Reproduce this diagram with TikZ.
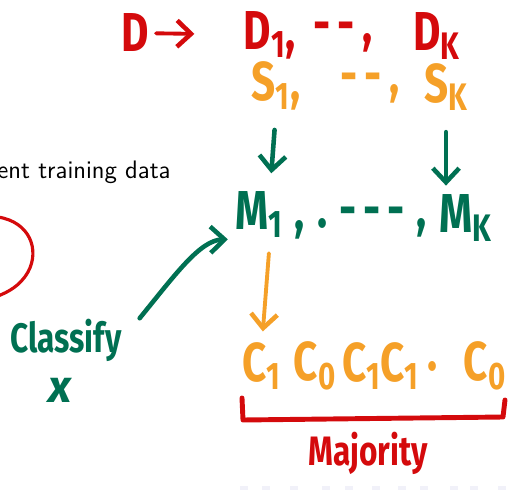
\documentclass[tikz,border=0pt]{standalone}
\usepackage{fontspec}
\usepackage{xcolor}
\usepackage{tikz}
\usetikzlibrary{arrows.meta, calc}
\newfontfamily\hand{Fira Sans}
% marker writing is taller than the font
\newcommand{\hw}[1]{\scalebox{1}[1.3]{#1}}

\definecolor{hred}{RGB}{212,10,12}
\definecolor{horange}{RGB}{245,160,40}
\definecolor{hgreen}{RGB}{0,112,82}

\tikzset{
  ink/.style={font=\hand\bfseries\fontsize{24}{26}\selectfont, inner sep=0pt},
  redink/.style={ink, text=hred},
  orangeink/.style={ink, text=horange},
  greenink/.style={ink, text=hgreen},
  harrow/.style={line width=2.6pt, line cap=round, line join=round,
    -{Straight Barb[length=8pt,width=15pt,line width=2.6pt]}},
}

\begin{document}
\begin{tikzpicture}[x=0.02cm, y=-0.02cm]
  \useasboundingbox (0,0) rectangle (511,490);

  % bit of the slide underneath
  \node[anchor=base west, inner sep=0pt, font=\sffamily\fontsize{14.4}{17}\selectfont] (slide) at (-3,178) {ent training data};
  \draw[hred, line width=1.8pt] (-2,217) .. controls (30,222) and (40,250) .. (28,272)
    .. controls (20,286) and (8,292) .. (-2,296);

  % splitting the data
  \node[redink] (d) at (135,33) {\hw{D}};
  \node[redink] (d1) at (270,35) {\hw{D\textsubscript{1},}};
  \node[redink] (ddots) at (343,37) {\hw{-\,-\,,}};
  \node[redink] (dk) at (437,36) {\hw{D\textsubscript{K}}};
  \draw[harrow, hred, line width=2.2pt, shorten <=4pt, shorten >=28pt] (d) -- (d1);

  \node[orangeink] (s1) at (276,86) {\hw{S\textsubscript{1},}};
  \node[orangeink] (sdots) at (370,88) {\hw{-\,-\,,}};
  \node[orangeink] (sk) at (446,87) {\hw{S\textsubscript{K}}};

  % models
  \node[greenink] (m1) at (270,215) {\hw{M\textsubscript{1}\;,}};
  \node[greenink] (mdots) at (372,222) {\hw{.\;-\,-\,-\;,}};
  \node[greenink] (mk) at (466,218) {\hw{M\textsubscript{K}}};
  \draw[harrow, hgreen, shorten <=11pt, shorten >=10pt] (s1.south) -- (m1.north);
  \draw[harrow, hgreen, shorten <=12pt, shorten >=5pt] (sk.south) -- (sk.south |- mk.north);

  % predictions
  \node[orangeink] (c1) at (262,366) {\hw{C\textsubscript{1}}};
  \node[orangeink] (c2) at (315,366) {\hw{C\textsubscript{0}}};
  \node[orangeink] (c3) at (362,366) {\hw{C\textsubscript{1}}};
  \node[orangeink] (c4) at (400,366) {\hw{C\textsubscript{1}}};
  \node[orangeink] (cdot) at (433,366) {\hw{.}};
  \node[orangeink] (c5) at (485,366) {\hw{C\textsubscript{0}}};
  \draw[harrow, horange, line width=2.2pt, shorten <=8pt, shorten >=6pt] (m1.south) -- (c1.north);

  % vote
  \coordinate (bl) at (242,398);
  \coordinate (br) at (505,400);
  \draw[hred, line width=2.8pt, line cap=round, line join=round]
    (bl) -- (243,420) -- (503,417) -- (br);
  \node[redink, font=\hand\bfseries\fontsize{18}{20}\selectfont] (vote) at (368,453) {\hw{Majority}};

  % new point
  \node[greenink, font=\hand\bfseries\fontsize{18}{20}\selectfont] (cls) at (66,340) {\hw{Classify}};
  \node[greenink, font=\hand\bfseries\itshape\fontsize{26}{28}\selectfont] (x) at (60,390) {x};
  \draw[harrow, hgreen, shorten <=16pt, shorten >=4pt] (cls.east)
    .. controls (175,275) and (200,240) .. (m1.south west);

  % navigation symbols
  \foreach \nx in {240,262,290,322,345,372,398,420,450,470,498}
    \fill[blue!40!gray, opacity=0.08] (\nx,486) rectangle ++(8,5);
\end{tikzpicture}
\end{document}
